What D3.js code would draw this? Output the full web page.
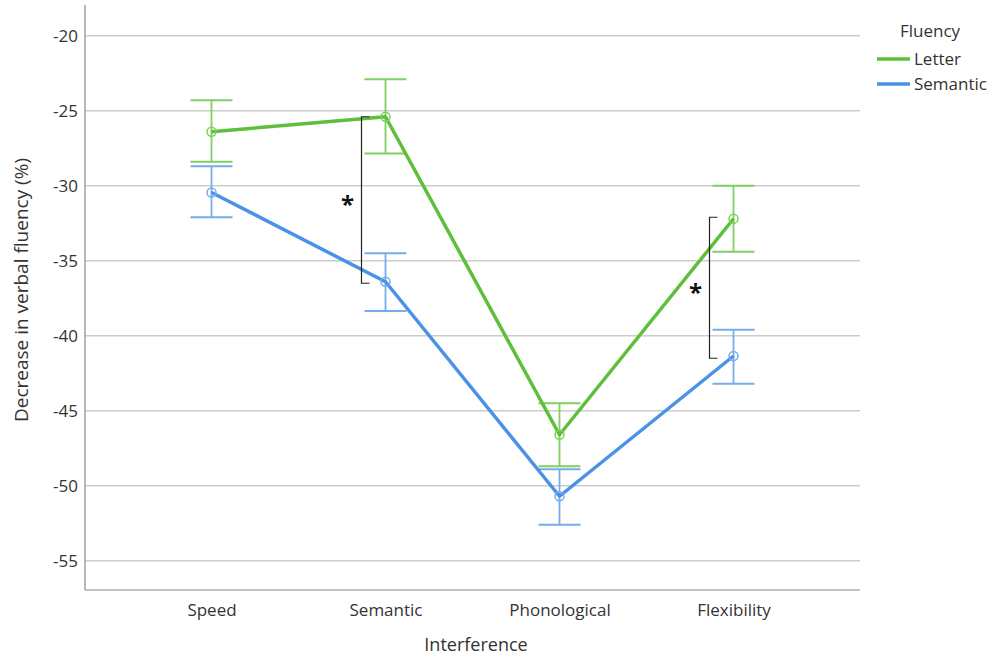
<!DOCTYPE html>
<html>
<head>
<meta charset="utf-8">
<script src="https://cdn.jsdelivr.net/npm/d3@7"></script>
<style>
  body { margin: 0; background: #fff; }
  text { font-family: "Open Sans", "Noto Sans", sans-serif; }
</style>
</head>
<body>
<div id="chart"></div>
<script>
const categories = ["Speed", "Semantic", "Phonological", "Flexibility"];
const yTicks = [-20, -25, -30, -35, -40, -45, -50, -55];

// means and error bar ends (upper, lower)
const letterMean = [-26.4, -25.4, -46.6, -32.2];
const letterHigh = [-24.3, -22.9, -44.5, -30.0];
const letterLow = [-28.4, -27.85, -48.7, -34.4];
const semanticMean = [-30.45, -36.4, -50.7, -41.35];
const semanticHigh = [-28.7, -34.5, -48.9, -39.6];
const semanticLow = [-32.1, -38.35, -52.6, -43.2];

// significance brackets: category, top value, bottom value
const brackets = [
  { cat: "Semantic", top: -25.4, bottom: -36.5 },
  { cat: "Flexibility", top: -32.1, bottom: -41.5 }
];

const series = [
  { name: "Letter", color: "#5dbf3a", errColor: "#7fd060", mean: letterMean, hi: letterHigh, lo: letterLow },
  { name: "Semantic", color: "#4b92e6", errColor: "#76acec", mean: semanticMean, hi: semanticHigh, lo: semanticLow }
];

const W = 993, H = 657;
const plot = { left: 85, right: 860, top: 5, bottom: 590 };

const svg = d3.select("#chart").append("svg")
  .attr("width", W)
  .attr("height", H);

const x = d3.scalePoint()
  .domain(categories)
  .range([plot.left, plot.right])
  .padding(0.727);

const y = d3.scaleLinear()
  .domain([-56.95, -17.95])
  .range([plot.bottom, plot.top]);

// gridlines
svg.append("g")
  .selectAll("line")
  .data(yTicks)
  .enter()
  .append("line")
  .attr("x1", plot.left)
  .attr("x2", plot.right)
  .attr("y1", d => y(d))
  .attr("y2", d => y(d))
  .attr("stroke", "#cccccc")
  .attr("stroke-width", 1.5);

// y axis (plain hyphen, as in the original)
const yAxis = svg.append("g")
  .attr("transform", `translate(${plot.left},0)`)
  .call(d3.axisLeft(y).tickValues(yTicks).tickSize(0).tickPadding(7)
    .tickFormat(d => String(d)));
yAxis.select(".domain").remove();
yAxis.selectAll("text")
  .style("font-size", "17px")
  .attr("fill", "#333");

// x axis
const xAxis = svg.append("g")
  .attr("transform", `translate(0,${plot.bottom})`)
  .call(d3.axisBottom(x).tickSize(0).tickPadding(14));
xAxis.select(".domain").remove();
xAxis.selectAll("text")
  .style("font-size", "17px")
  .attr("fill", "#333");

// axis frame lines
svg.append("line")
  .attr("x1", plot.left).attr("x2", plot.left)
  .attr("y1", plot.top).attr("y2", plot.bottom)
  .attr("stroke", "#888").attr("stroke-width", 1.2);
svg.append("line")
  .attr("x1", plot.left).attr("x2", plot.right)
  .attr("y1", plot.bottom).attr("y2", plot.bottom)
  .attr("stroke", "#888").attr("stroke-width", 1.2);

// axis titles
svg.append("text")
  .attr("x", 476)
  .attr("y", 651)
  .attr("text-anchor", "middle")
  .style("font-size", "18px")
  .attr("fill", "#333")
  .text("Interference");

svg.append("text")
  .attr("transform", "translate(28, 290) rotate(-90)")
  .attr("text-anchor", "middle")
  .style("font-size", "19px")
  .attr("fill", "#333")
  .text("Decrease in verbal fluency (%)");

// error bars
const capHalf = 21;
series.forEach(s => {
  const g = svg.append("g");
  categories.forEach((c, i) => {
    const cx = x(c);
    g.append("line")
      .attr("x1", cx).attr("x2", cx)
      .attr("y1", y(s.hi[i])).attr("y2", y(s.lo[i]))
      .attr("stroke", s.errColor).attr("stroke-width", 1.8);
    [s.hi[i], s.lo[i]].forEach(v => {
      g.append("line")
        .attr("x1", cx - capHalf).attr("x2", cx + capHalf)
        .attr("y1", y(v)).attr("y2", y(v))
        .attr("stroke", s.errColor).attr("stroke-width", 1.8);
    });
  });
});

// lines and markers
const line = d3.line()
  .x((d, i) => x(categories[i]))
  .y(d => y(d));

series.forEach(s => {
  svg.append("path")
    .datum(s.mean)
    .attr("fill", "none")
    .attr("stroke", s.color)
    .attr("stroke-width", 3.5)
    .attr("stroke-linejoin", "round")
    .attr("d", line);

  svg.append("g")
    .selectAll("circle")
    .data(s.mean)
    .enter()
    .append("circle")
    .attr("cx", (d, i) => x(categories[i]))
    .attr("cy", d => y(d))
    .attr("r", 4.5)
    .attr("fill", "none")
    .attr("stroke", s.errColor)
    .attr("stroke-width", 1.5);
});

// significance brackets
brackets.forEach(b => {
  const bx = x(b.cat) - 24;
  const y1 = y(b.top), y2 = y(b.bottom);
  svg.append("path")
    .attr("d", `M${bx + 8},${y1} H${bx} V${y2} H${bx + 8}`)
    .attr("fill", "none")
    .attr("stroke", "#222")
    .attr("stroke-width", 1.2);
  svg.append("text")
    .attr("x", bx - 14)
    .attr("y", (y1 + y2) / 2 + 13)
    .attr("text-anchor", "middle")
    .style("font-size", "24px")
    .style("font-weight", "bold")
    .attr("fill", "#111")
    .text("*");
});

// legend
const legend = svg.append("g");
legend.append("text")
  .attr("x", 930)
  .attr("y", 37)
  .attr("text-anchor", "middle")
  .style("font-size", "17px")
  .attr("fill", "#333")
  .text("Fluency");

series.forEach((s, i) => {
  const ly = 59 + i * 25;
  legend.append("line")
    .attr("x1", 877).attr("x2", 910)
    .attr("y1", ly).attr("y2", ly)
    .attr("stroke", s.color)
    .attr("stroke-width", 3.5);
  legend.append("text")
    .attr("x", 914)
    .attr("y", ly + 6)
    .style("font-size", "17px")
    .attr("fill", "#333")
    .text(s.name);
});
</script>
</body>
</html>
